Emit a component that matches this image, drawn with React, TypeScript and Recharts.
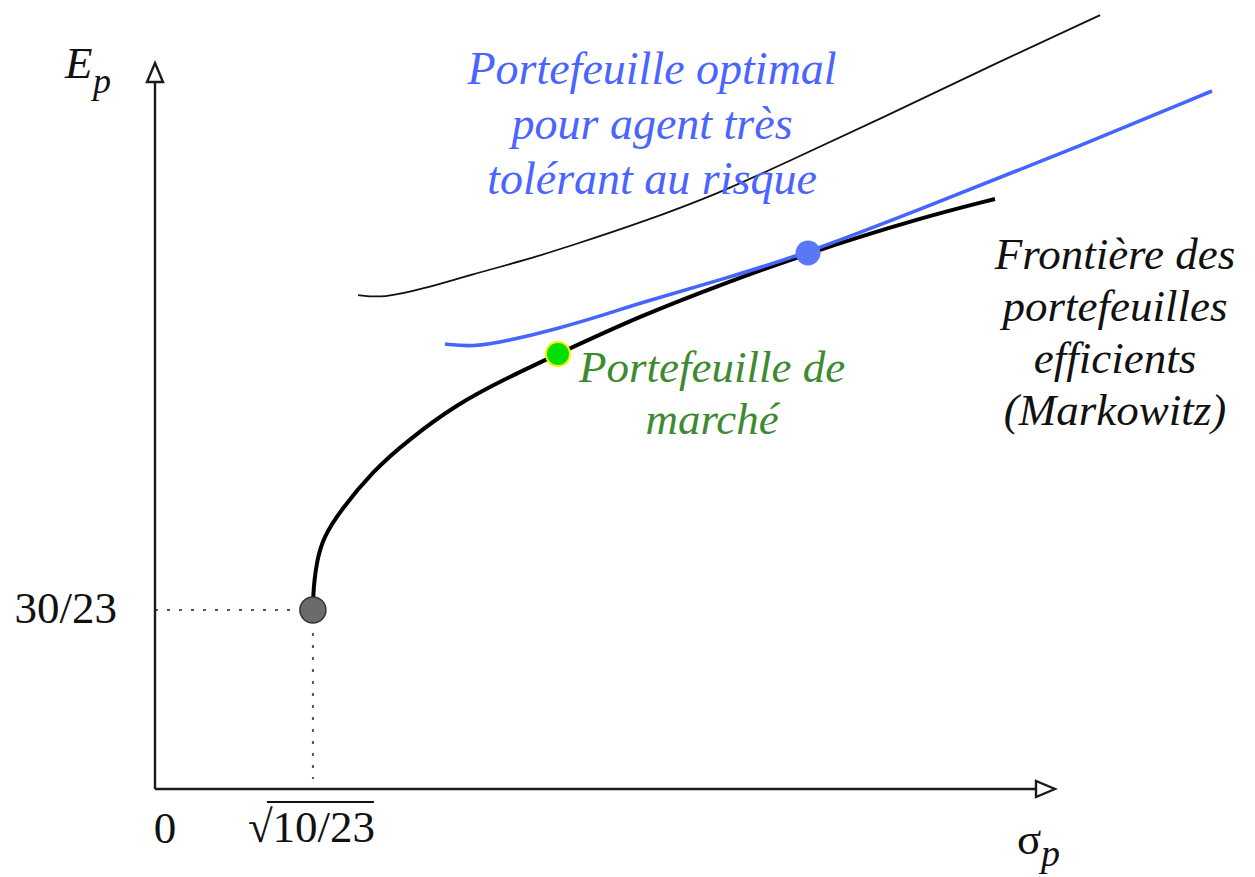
import { ComposedChart, Line, XAxis, YAxis, ReferenceLine, ReferenceDot } from "recharts";

const FONT = '"Liberation Serif", "Times New Roman", serif';

// minimum variance portfolio: sigma = sqrt(10/23), E = 30/23
const SIGMA_MIN = 0.658;
const E_MIN = 1.303;

// efficient frontier (Markowitz)
const frontierSigma = [0.658, 0.659, 0.664, 0.675, 0.7, 0.771, 0.908, 1.05, 1.258, 1.467, 1.679, 2.021, 2.354, 2.721, 3.188, 3.5];
const frontierE = [1.303, 1.4, 1.52, 1.66, 1.827, 2.024, 2.315, 2.533, 2.803, 2.992, 3.167, 3.443, 3.669, 3.902, 4.157, 4.295];

// indifference curve tangent to the frontier
const optimalSigma = [1.208, 1.325, 1.467, 1.675, 1.883, 2.021, 2.354, 2.721, 3.2, 3.75, 4.404];
const optimalE = [3.239, 3.218, 3.261, 3.349, 3.458, 3.538, 3.705, 3.902, 4.229, 4.607, 5.081];

// higher, unreachable indifference curve
const higherSigma = [0.846, 0.95, 1.117, 1.325, 1.533, 1.742, 2.021, 2.354, 2.633, 3.021, 3.479, 3.938];
const higherE = [3.596, 3.574, 3.64, 3.749, 3.844, 3.96, 4.12, 4.339, 4.564, 4.877, 5.263, 5.634];

const marketPoint = { x: 1.679, y: 3.167 };
const optimalPoint = { x: 2.721, y: 3.902 };

const xTicks = [0, SIGMA_MIN];
const xTickLabels = ["0", "10/23"];
const yTicks = [E_MIN];
const yTickLabels = ["30/23"];

const optimalLabel = ["Portefeuille optimal", "pour agent très", "tolérant au risque"];
const marketLabel = ["Portefeuille de", "marché"];
const frontierLabel = ["Frontière des", "portefeuilles", "efficients", "(Markowitz)"];

const zip = (xs: number[], ys: number[]) => xs.map((x, i) => ({ x, y: ys[i] }));
const frontier = zip(frontierSigma, frontierE);
const optimal = zip(optimalSigma, optimalE);
const higher = zip(higherSigma, higherE);

function Arrow(props: any) {
  const { x1, y1, x2, y2 } = props;
  const dx = x2 - x1;
  const dy = y2 - y1;
  const len = Math.hypot(dx, dy) || 1;
  const ux = dx / len;
  const uy = dy / len;
  const head = 19;
  const half = 8;
  const bx = x2 - ux * head;
  const by = y2 - uy * head;
  const px = -uy * half;
  const py = ux * half;
  return (
    <g>
      <line x1={x1} y1={y1} x2={bx} y2={by} stroke="#1a1a1a" strokeWidth={2.4} />
      <polygon
        points={`${x2},${y2} ${bx + px},${by + py} ${bx - px},${by - py}`}
        fill="#fff"
        stroke="#1a1a1a"
        strokeWidth={2.4}
      />
    </g>
  );
}

function multiLine(lines: string[], color: string, lh: number, size = 45) {
  return (props: any) => {
    const { cx, cy } = props;
    return (
      <text x={cx} y={cy} textAnchor="middle" fontFamily={FONT} fontStyle="italic" fontSize={size} fill={color}>
        {lines.map((l, i) => (
          <tspan key={i} x={cx} y={cy + i * lh}>
            {l}
          </tspan>
        ))}
      </text>
    );
  };
}

function XTick(props: any) {
  const { x, y, payload, index } = props;
  if (payload.value === 0) {
    return (
      <text x={x + 10} y={y + 54} textAnchor="middle" fontFamily={FONT} fontSize={45} fill="#111">
        {xTickLabels[index]}
      </text>
    );
  }
  return (
    <g>
      <text x={x - 65} y={y + 53} fontFamily={FONT} fontSize={45} fill="#111">
        √{xTickLabels[index]}
      </text>
      <line x1={x - 46} y1={y + 13} x2={x + 61} y2={y + 13} stroke="#111" strokeWidth={2} />
    </g>
  );
}

function YTick(props: any) {
  const { x, y, index } = props;
  return (
    <text x={x - 38} y={y + 13} textAnchor="end" fontFamily={FONT} fontSize={45} fill="#111">
      {yTickLabels[index]}
    </text>
  );
}

const eLabel = (props: any) => (
  <g fontFamily={FONT} fontStyle="italic" fill="#111">
    <text x={props.cx} y={props.cy} fontSize={45}>
      E
    </text>
    <text x={props.cx + 28} y={props.cy + 15} fontSize={36}>
      p
    </text>
  </g>
);

const sigmaLabel = (props: any) => (
  <g fontFamily={FONT} fill="#111">
    <text x={props.cx} y={props.cy} fontSize={45}>
      σ
    </text>
    <text x={props.cx + 24} y={props.cy + 12} fontSize={38} fontStyle="italic">
      p
    </text>
  </g>
);

export default function App() {
  return (
    <div style={{ position: "absolute", left: 0, top: 0, width: 1255, height: 877, background: "#fff" }}>
      <ComposedChart width={1255} height={877} margin={{ top: 6, right: 20, bottom: 28, left: 0 }}>
        <XAxis
          type="number"
          dataKey="x"
          domain={[0, 4.5]}
          ticks={xTicks}
          tick={<XTick />}
          tickSize={0}
          tickMargin={0}
          axisLine={false}
          tickLine={false}
          height={60}
          interval={0}
        />
        <YAxis
          type="number"
          dataKey="y"
          domain={[0, 5.7]}
          ticks={yTicks}
          tick={<YTick />}
          tickSize={0}
          tickMargin={0}
          axisLine={false}
          tickLine={false}
          width={155}
          interval={0}
        />

        <ReferenceLine
          segment={[{ x: 0, y: E_MIN }, { x: 0.592, y: E_MIN }]}
          stroke="#555"
          strokeWidth={2}
          strokeDasharray="3 9"
        />
        <ReferenceLine
          segment={[{ x: SIGMA_MIN, y: 1.136 }, { x: SIGMA_MIN, y: 0.073 }]}
          stroke="#555"
          strokeWidth={2}
          strokeDasharray="3 9"
        />
        <ReferenceLine segment={[{ x: 0, y: 0 }, { x: 0, y: 5.285 }]} shape={Arrow} />
        <ReferenceLine segment={[{ x: 0, y: 0 }, { x: 3.75, y: 0 }]} shape={Arrow} />

        <Line data={higher} dataKey="y" type="basis" stroke="#111" strokeWidth={1.8} dot={false} isAnimationActive={false} />
        <Line data={frontier} dataKey="y" type="basis" stroke="#000" strokeWidth={4} dot={false} isAnimationActive={false} />
        <Line data={optimal} dataKey="y" type="basis" stroke="#4466ff" strokeWidth={3.6} dot={false} isAnimationActive={false} />

        <ReferenceDot x={SIGMA_MIN} y={E_MIN} r={13} fill="#6b6b6b" stroke="#333" strokeWidth={1.5} />
        <ReferenceDot x={marketPoint.x} y={marketPoint.y} r={12} fill="#00e000" stroke="#f2f200" strokeWidth={2} />
        <ReferenceDot x={optimalPoint.x} y={optimalPoint.y} r={12.5} fill="#5a78f5" stroke="none" />

        <ReferenceDot x={2.071} y={5.132} r={0} shape={multiLine(optimalLabel, "#4a64ff", 55, 46)} />
        <ReferenceDot x={2.321} y={2.963} r={0} shape={multiLine(marketLabel, "#3d8a30", 52)} />
        <ReferenceDot x={4.0} y={3.785} r={0} shape={multiLine(frontierLabel, "#111", 52, 45)} />
        <ReferenceDot x={-0.375} y={5.176} r={0} ifOverflow="visible" shape={eLabel} />
        <ReferenceDot x={3.592} y={-0.473} r={0} ifOverflow="visible" shape={sigmaLabel} />
      </ComposedChart>
    </div>
  );
}
